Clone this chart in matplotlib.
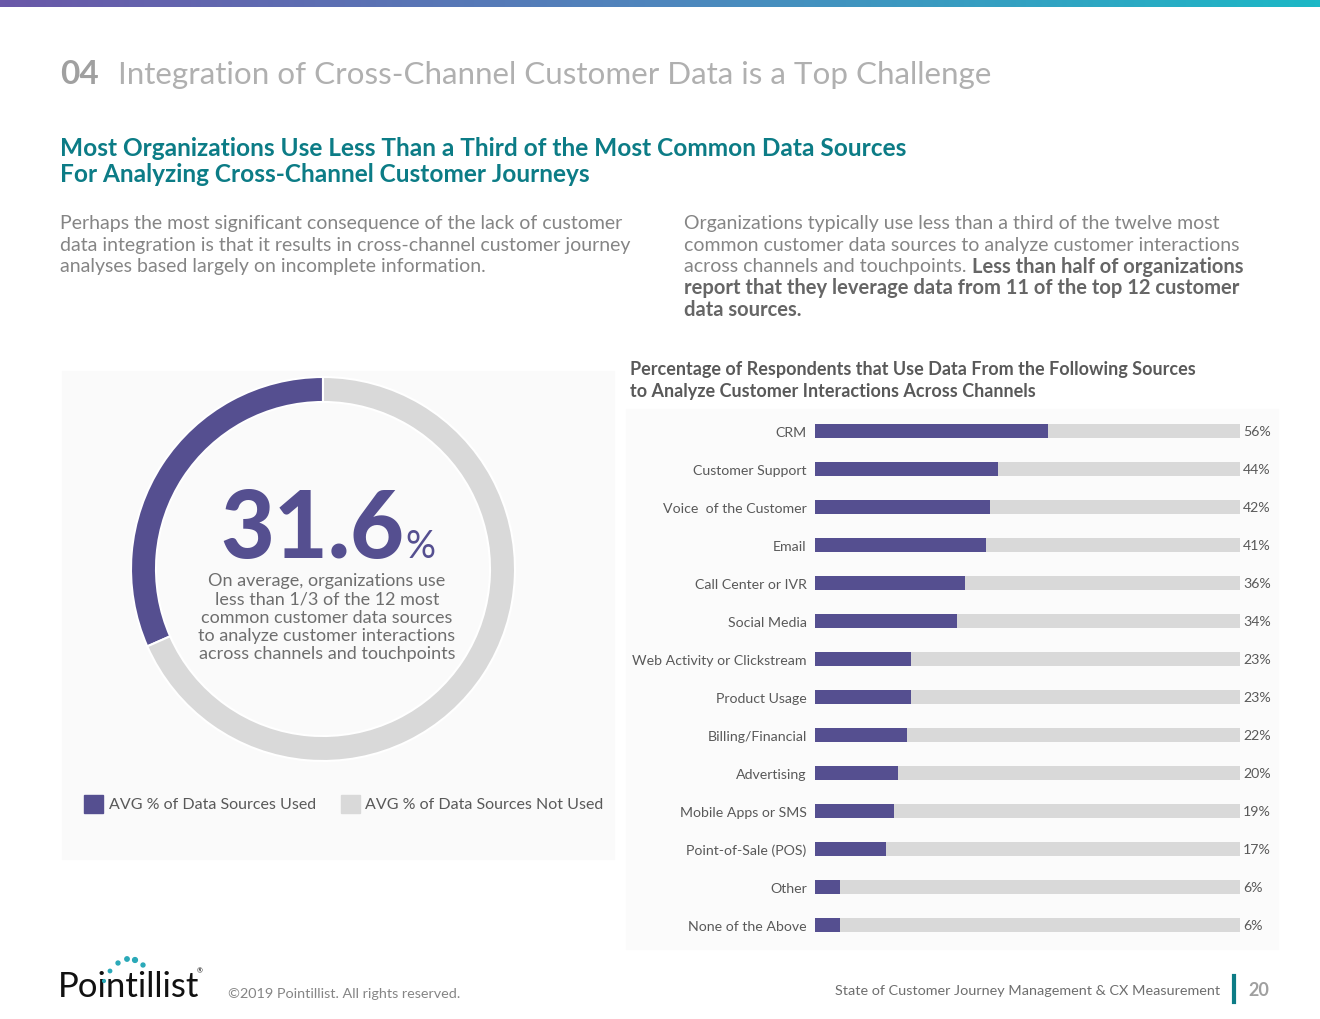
import numpy as np
import matplotlib
matplotlib.use('Agg')
import matplotlib.pyplot as plt
from matplotlib.patches import Rectangle

plt.rcParams['font.family'] = ['Lato', 'DejaVu Sans']

PURPLE = '#554f90'
LIGHT = '#d9d9d9'
TEAL = '#0c7c86'
GREY = '#858585'
DARK = '#595959'

# data
sources = ['CRM', 'Customer Support', 'Voice  of the Customer', 'Email',
           'Call Center or IVR', 'Social Media', 'Web Activity or Clickstream',
           'Product Usage', 'Billing/Financial', 'Advertising',
           'Mobile Apps or SMS', 'Point-of-Sale (POS)', 'Other', 'None of the Above']
usage = [56, 44, 42, 41, 36, 34, 23, 23, 22, 20, 19, 17, 6, 6]

donut_labels = ['AVG % of Data Sources Used', 'AVG % of Data Sources Not Used']
donut_values = [31.6, 68.4]

W, H = 1320, 1020
fig = plt.figure(figsize=(W / 100, H / 100), dpi=100)
fig.patch.set_facecolor('white')

# page-level axes in pixel coords
bg = fig.add_axes([0, 0, 1, 1])
bg.set_xlim(0, W)
bg.set_ylim(H, 0)
bg.axis('off')

# gradient bar at top
grad = np.linspace(0, 1, 256).reshape(1, -1)
cmap = matplotlib.colors.LinearSegmentedColormap.from_list('g', ['#6a58a8', '#4f86bd', '#1cb8c6'])
bg.imshow(grad, extent=[0, W, 8, 0], aspect='auto', cmap=cmap)

# soft panels
bg.add_patch(Rectangle((62, 372), 552, 488, color='#fafafa', zorder=0))
bg.add_patch(Rectangle((626, 410), 652, 540, color='#fbfbfb', zorder=0))

# headings
bg.text(60, 75, '04', fontsize=24, fontweight='bold', color='#a0a0a0', va='center')
bg.text(118, 75, 'Integration of Cross-Channel Customer Data is a Top Challenge',
        fontsize=22.6, color='#b0b0b0', va='center')
bg.text(60, 148, 'Most Organizations Use Less Than a Third of the Most Common Data Sources',
        fontsize=17.6, fontweight='bold', color=TEAL, va='center')
bg.text(60, 175, 'For Analyzing Cross-Channel Customer Journeys',
        fontsize=17.6, fontweight='bold', color=TEAL, va='center')

left_par = ['Perhaps the most significant consequence of the lack of customer',
            'data integration is that it results in cross-channel customer journey',
            'analyses based largely on incomplete information.']
for i, line in enumerate(left_par):
    bg.text(60, 223 + i * 22, line, fontsize=14, color=GREY, va='center')

right_light = ['Organizations typically use less than a third of the twelve most',
               'common customer data sources to analyze customer interactions',
               'across channels and touchpoints. ']
for i, line in enumerate(right_light):
    t = bg.text(684, 223 + i * 22, line, fontsize=14, color=GREY, va='center')
renderer = fig.canvas.get_renderer()
ext = t.get_window_extent(renderer)
x_end = bg.transData.inverted().transform((ext.x1, ext.y0))[0]
bg.text(x_end, 267, 'Less than half of organizations', fontsize=14.5, fontweight='bold',
        color='#666666', va='center')
bg.text(684, 288, 'report that they leverage data from 11 of the top 12 customer',
        fontsize=14.5, fontweight='bold', color='#666666', va='center')
bg.text(684, 310, 'data sources.', fontsize=14.5, fontweight='bold', color='#666666', va='center')

# chart title
bg.text(630, 370, 'Percentage of Respondents that Use Data From the Following Sources',
        fontsize=13, fontweight='bold', color=DARK, va='center')
bg.text(630, 392, 'to Analyze Customer Interactions Across Channels',
        fontsize=13, fontweight='bold', color=DARK, va='center')

# donut
cx, cy, r = 323, 570, 192
half = 200
dax = fig.add_axes([(cx - half) / W, 1 - (cy + half) / H, 2 * half / W, 2 * half / H])
dax.pie(donut_values, colors=[PURPLE, LIGHT], startangle=90, counterclock=True,
        wedgeprops=dict(width=25 / r, edgecolor='white', linewidth=1.5))
lim = half / r
dax.set_xlim(-lim, lim)
dax.set_ylim(-lim, lim)
dax.set_aspect('equal')
dax.axis('off')

bg.text(404, 558, '31.6', fontsize=67, fontweight='black', color=PURPLE, ha='right', va='baseline')
bg.text(405, 558, '%', fontsize=27, color=PURPLE, ha='left', va='baseline')
donut_text = ['On average, organizations use', 'less than 1/3 of the 12 most',
              'common customer data sources', 'to analyze customer interactions',
              'across channels and touchpoints']
for i, line in enumerate(donut_text):
    bg.text(327, 581 + i * 18.3, line, fontsize=13, color='#6e6e6e', ha='center', va='center')

# legend
for (x0, tx), lab, col in zip([(84, 109), (341, 365)], donut_labels, [PURPLE, LIGHT]):
    bg.add_patch(Rectangle((x0, 796), 19, 18, color=col))
    bg.text(tx, 805, lab, fontsize=11.5, color=DARK, va='center')

# bar chart
x0, x1 = 815, 1240
top, step = 432, 38.0
n = len(sources)
bax = fig.add_axes([x0 / W, 1 - (top - step / 2 + n * step) / H, (x1 - x0) / W, n * step / H])
ypos = np.arange(n)
bax.set_xlim(0, 102)
track = bax.get_xlim()[1]
bax.barh(ypos, [track] * n, height=0.37, color=LIGHT)
bax.barh(ypos, usage, height=0.37, color=PURPLE)
bax.set_xlim(0, track)
bax.set_ylim(n - 0.5, -0.5)
bax.set_yticks(ypos)
bax.set_yticklabels(sources, fontsize=10.2, color=DARK)
bax.tick_params(axis='y', length=0, pad=6)
bax.set_xticks([])
for s in bax.spines.values():
    s.set_visible(False)
bax.patch.set_alpha(0)
for y, v in zip(ypos, usage):
    bax.text(track + 0.7, y, f'{v}%', fontsize=10.2, color=DARK, va='center', ha='left')

# footer
bg.text(58, 987, 'Pointillist', fontsize=25, color='#111111', va='center')
bg.text(197, 973, '\u00ae', fontsize=5, color='#111111')
dots_x = [104, 110, 118, 127, 135, 143]
dots_y = [982, 972, 964, 960, 961, 966]
bg.scatter(dots_x, dots_y, s=[4, 6, 8, 10, 12, 8], color='#2aa9b8', zorder=5)
bg.text(228, 994, '\u00a92019 Pointillist. All rights reserved.', fontsize=10.4,
        color=GREY, va='center')
bg.text(1220, 991, 'State of Customer Journey Management & CX Measurement', fontsize=10.4,
        color='#6e6e6e', va='center', ha='right')
bg.plot([1234, 1234], [977, 1003], color=TEAL, lw=3)
bg.text(1248, 991, '20', fontsize=13, fontweight='bold', color='#a0a0a0', va='center')

fig.savefig('out.png', dpi=100, facecolor='white')
